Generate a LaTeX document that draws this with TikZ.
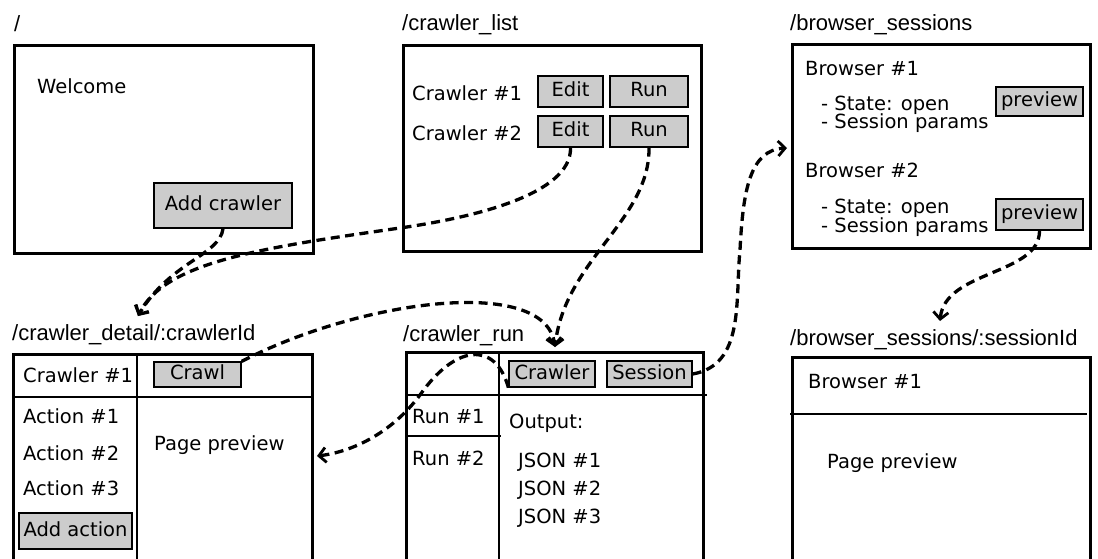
\documentclass[tikz,border=0pt]{standalone}
\usepackage{fontspec}
\setmainfont{DejaVu Sans}
\newfontfamily\titlefont{Liberation Sans}
\usetikzlibrary{arrows.meta,fit}
\definecolor{btngray}{RGB}{204,204,204}
\tikzset{
  screen/.style={draw, line width=3pt, inner sep=0pt},
  divider/.style={line width=1.5pt},
  btn/.style={draw, line width=1.2pt, fill=btngray, inner sep=0pt,
    font=\fontsize{19.5}{22}\selectfont, text height=14pt, text depth=4pt},
  lbl/.style={inner sep=0pt, anchor=base west, font=\fontsize{19.5}{22}\selectfont},
  route/.style={inner sep=0pt, anchor=base west, font=\titlefont\fontsize{22}{26}\selectfont},
  link/.style={line width=3.3pt, dash pattern=on 9pt off 5.5pt,
    -{Straight Barb[length=7pt,width=15pt,line width=2.8pt]}},
}
\begin{document}
\begin{tikzpicture}[x=1pt,y=-1pt]
\useasboundingbox (0,0) rectangle (1098,558);
\clip (0,0) rectangle (1098,558);

% ---- home page ----
\node[route] (homeT) at (14,31) {/};
\node[screen, fit={(14,45)(313,253)}] (home) {};
\node[lbl] (welcome) at (37,93) {Welcome};
\node[btn, minimum width=138pt, minimum height=45pt] (addcrawler) at (223,205.5) {Add crawler};

% ---- crawler list ----
\node[route] (listT) at (402,30) {/crawler\_list};
\node[screen, fit={(403,45)(701,251)}] (list) {};
\node[lbl] (cr1) at (412,100) {Crawler \#1};
\node[lbl] (cr2) at (412,140) {Crawler \#2};
\node[btn, minimum width=65pt, minimum height=31pt] (edit1) at (570.5,91.5) {Edit};
\node[btn, minimum width=78pt, minimum height=31pt] (run1) at (649,91.5) {Run};
\node[btn, minimum width=65pt, minimum height=31pt] (edit2) at (570.5,131.5) {Edit};
\node[btn, minimum width=78pt, minimum height=31pt] (run2) at (649,131.5) {Run};

% ---- browser sessions ----
\node[route] (sessT) at (790,30) {/browser\_sessions};
\node[screen, fit={(792,44)(1090,248)}] (sessions) {};
\node[lbl] (b1) at (805,75) {Browser \#1};
\node[lbl] (b1s) at (821,110) {- State: open};
\node[lbl] (b1p) at (821,128) {- Session params};
\node[btn, minimum width=87pt, minimum height=29pt] (preview1) at (1039.5,101.5) {preview};
\node[lbl] (b2) at (805,177) {Browser \#2};
\node[lbl] (b2s) at (821,213) {- State: open};
\node[lbl] (b2p) at (821,232) {- Session params};
\node[btn, minimum width=87pt, minimum height=31pt] (preview2) at (1039.5,214.5) {preview};

% ---- crawler detail ----
\node[route] (detailT) at (12,340) {/crawler\_detail/:crawlerId};
\node[screen, fit={(13,354)(312,620)}] (detail) {};
\draw[divider] (137,354) -- (137,600);
\draw[divider] (12,397) -- (312,397);
\node[lbl] (dcr) at (23,382) {Crawler \#1};
\node[btn, minimum width=87pt, minimum height=25pt] (crawl) at (197.5,374.5) {Crawl};
\node[lbl] (a1) at (23,423) {Action \#1};
\node[lbl] (a2) at (23,460) {Action \#2};
\node[lbl] (a3) at (23,495) {Action \#3};
\node[btn, minimum width=113pt, minimum height=36pt] (addaction) at (75.5,531) {Add action};
\node[lbl] (dprev) at (154,450) {Page preview};

% ---- crawler run ----
\node[route] (runT) at (403,341) {/crawler\_run};
\node[screen, fit={(406,352)(703,620)}] (runpage) {};
\draw[divider] (499,352) -- (499,600);
\draw[divider] (406,395) -- (707,395);
\draw[divider] (406,436) -- (501,436);
\node[lbl] (r1) at (412,423) {Run \#1};
\node[lbl] (r2) at (412,465) {Run \#2};
\node[lbl] (out) at (509,428) {Output:};
\node[lbl] (j1) at (518,467) {JSON \#1};
\node[lbl] (j2) at (518,495) {JSON \#2};
\node[lbl] (j3) at (518,523) {JSON \#3};
\node[btn, minimum width=86pt, minimum height=26pt] (crawlerbtn) at (552,374) {Crawler};
\node[btn, minimum width=85pt, minimum height=26pt] (session) at (649.5,374) {Session};

% ---- single session ----
\node[route] (sidT) at (790,345) {/browser\_sessions/:sessionId};
\node[screen, fit={(792,357)(1090,620)}] (sid) {};
\draw[divider] (790,414) -- (1087,414);
\node[lbl] (sb1) at (808,388) {Browser \#1};
\node[lbl] (sprev) at (827,468) {Page preview};

% ---- navigation links ----
\coordinate (detailIn) at (138,316);
\coordinate (runIn) at (555,347);
\coordinate (detailSide) at (317,456);
\coordinate (sessIn) at (787,148);
\coordinate (sidIn) at (940,321);

\draw[link] (addcrawler.south) .. controls (220,255) and (170,262) .. (detailIn);
\draw[link] (edit2.south) .. controls (572,195) and (470,218) .. (400,228)
  .. controls (260,248) and (165,262) .. (detailIn);
\draw[link] (run2.south) .. controls (650,220) and (565,260) .. (runIn);
\draw[link] (crawl.north east) .. controls (360,300) and (545,275) .. (runIn);
\draw[link] (crawlerbtn.south west) .. controls (495,340) and (455,345) .. (420,395)
  .. controls (390,435) and (350,452) .. (detailSide);
\draw[link] (session.east) .. controls (745,365) and (735,300) .. (740,250)
  .. controls (743,190) and (750,150) .. (sessIn);
\draw[link] (preview2.south) .. controls (1040,275) and (945,270) .. (sidIn);
\end{tikzpicture}
\end{document}
